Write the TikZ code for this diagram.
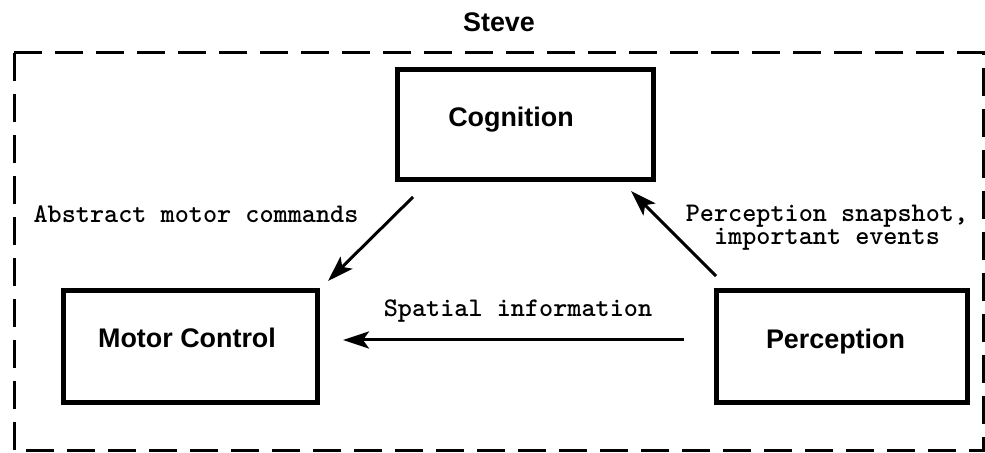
\documentclass[tikz,border=0pt]{standalone}
\usepackage{fontspec}
\setmainfont{Liberation Sans}
\usetikzlibrary{arrows.meta}
\tikzset{
  frame/.style={draw, line width=3bp, dash pattern=on 28bp off 13bp},
  blockbox/.style={draw, line width=5bp, inner sep=0pt},
  blocklab/.style={font=\fontsize{27}{30}\selectfont\bfseries, inner sep=0pt},
  flow/.style={line width=3bp, -{Stealth[length=26bp, width=17bp, inset=6bp]}},
  flowlab/.style={font=\ttfamily\bfseries\fontsize{27}{24}\selectfont, inner sep=0pt, anchor=base, align=center},
  titlelab/.style={font=\fontsize{27}{30}\selectfont\bfseries, inner sep=0pt, anchor=base}
}
\begin{document}
\begin{tikzpicture}[x=1bp, y=-1bp]
\useasboundingbox (0,0) rectangle (985,453);
\fill[white] (0,0) rectangle (985,453);
% title and outer dashed frame
\node[titlelab] (title) at (499,32) {Steve};
\draw[frame] (14,53) -- (983.5,53) -- (983.5,450.5) -- (14,450.5) -- cycle;
% blocks
\node[blockbox, minimum width=256bp, minimum height=110bp,
      label={[blocklab, xshift=-14.5bp, yshift=4.5bp]center:Cognition}] (cog) at (525.5,124.5) {};
\node[blockbox, minimum width=254bp, minimum height=112bp,
      label={[blocklab, xshift=-3.5bp, yshift=8.5bp]center:Motor Control}] (motor) at (190.5,346.5) {};
\node[blockbox, minimum width=251bp, minimum height=112bp,
      label={[blocklab, xshift=-6.5bp, yshift=5bp]center:Perception}] (perc) at (842,346.5) {};
% connector end points
\coordinate (a1s) at (413,197);
\coordinate (a1e) at (328,281);
\coordinate (a2s) at (716,276);
\coordinate (a2e) at (631,191);
\coordinate (a3s) at (684,340);
\coordinate (a3e) at (343,340);
% connectors
\draw[flow] (a1s) -- (a1e);
\draw[flow] (a2s) -- (a2e);
\draw[flow] (a3s) -- (a3e);
% connector labels
\node[flowlab] (l1) at (196,223) {Abstract motor commands};
\node[flowlab] (l2) at (827,245) {Perception snapshot,\\important events};
\node[flowlab] (l3) at (518,317) {Spatial information};
\end{tikzpicture}
\end{document}
